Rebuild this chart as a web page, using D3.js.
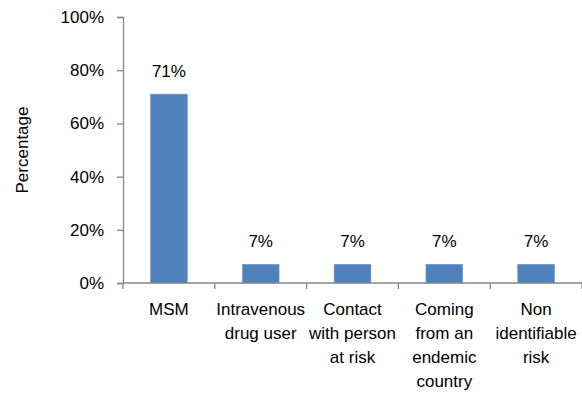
<!DOCTYPE html>
<html>
<head>
<meta charset="utf-8">
<script src="https://cdn.jsdelivr.net/npm/d3@7"></script>
<style>
  body { margin: 0; background: #fff; }
  svg { display: block; font-family: "Liberation Sans Narrow", "Arial Narrow", "Liberation Sans", sans-serif; }
</style>
</head>
<body>
<svg id="chart" width="582" height="393"></svg>
<script>
// categories, split into the lines the labels wrap to
const categories = ['MSM', 'Intravenous drug user', 'Contact with person at risk', 'Coming from an endemic country', 'Non identifiable risk'];
const categoryLines = [
    ['MSM'],
    ['Intravenous', 'drug user'],
    ['Contact', 'with person', 'at risk'],
    ['Coming', 'from an', 'endemic', 'country'],
    ['Non', 'identifiable', 'risk']
];
const values = [71, 7, 7, 7, 7];
const yTicks = [0, 20, 40, 60, 80, 100];

const margin = { top: 17, right: 0, bottom: 110, left: 123 };
const width = 582 - margin.left - margin.right;
const height = 393 - margin.top - margin.bottom;
const axisColor = '#868686';
const fontSize = 17;

const svg = d3.select('#chart');
const g = svg.append('g').attr('transform', `translate(${margin.left},${margin.top})`);

const x = d3.scaleBand().domain(categories).range([0, width]).paddingInner(0.6).paddingOuter(0.3);
const xEdges = d3.scaleBand().domain(categories).range([0, width]);
const y = d3.scaleLinear().domain([0, 100]).range([height, 0]);

// y axis
const yAxis = d3.axisLeft(y).tickValues(yTicks).tickSize(6).tickFormat(d => d + '%');
const yG = g.append('g').call(yAxis);
yG.select('.domain').attr('stroke', axisColor).attr('stroke-width', 1.3);
yG.selectAll('.tick line').attr('stroke', axisColor).attr('stroke-width', 1.3);
yG.selectAll('.tick text').attr('x', -19).attr('font-size', fontSize).attr('fill', '#000').attr('font-family', null);

// bars
g.selectAll('.bar').data(values).enter().append('rect')
    .attr('class', 'bar')
    .attr('x', (d, i) => x(categories[i]))
    .attr('y', d => y(d))
    .attr('width', x.bandwidth())
    .attr('height', d => height - y(d))
    .attr('fill', '#4f81bd')
    .attr('stroke', '#6f97c9')
    .attr('stroke-width', 0.6);

// value labels
g.selectAll('.val').data(values).enter().append('text')
    .attr('class', 'val')
    .attr('x', (d, i) => x(categories[i]) + x.bandwidth() / 2)
    .attr('y', d => y(d) - 17)
    .attr('text-anchor', 'middle')
    .attr('font-size', fontSize)
    .text(d => d + '%');

// x axis
const xG = g.append('g').attr('transform', `translate(0,${height})`);
xG.append('line').attr('x1', 0).attr('x2', width).attr('stroke', axisColor).attr('stroke-width', 1.3);
const edges = categories.map(c => xEdges(c)).concat([width]);
xG.selectAll('.tk').data(edges).enter().append('line')
    .attr('x1', d => d).attr('x2', d => d).attr('y1', 0).attr('y2', 6)
    .attr('stroke', axisColor).attr('stroke-width', 1.3);

const labels = xG.selectAll('.cat').data(categoryLines).enter().append('text')
    .attr('class', 'cat')
    .attr('text-anchor', 'middle')
    .attr('font-size', fontSize)
    .attr('transform', (d, i) => `translate(${xEdges(categories[i]) + xEdges.bandwidth() / 2},32)`);
labels.selectAll('tspan').data(d => d).enter().append('tspan')
    .attr('x', 0)
    .attr('y', (d, i) => i * 24)
    .text(d => d);

// y label
svg.append('text')
    .attr('transform', `translate(28,${margin.top + height / 2}) rotate(-90)`)
    .attr('text-anchor', 'middle')
    .attr('font-size', fontSize)
    .text('Percentage');
</script>
</body>
</html>
